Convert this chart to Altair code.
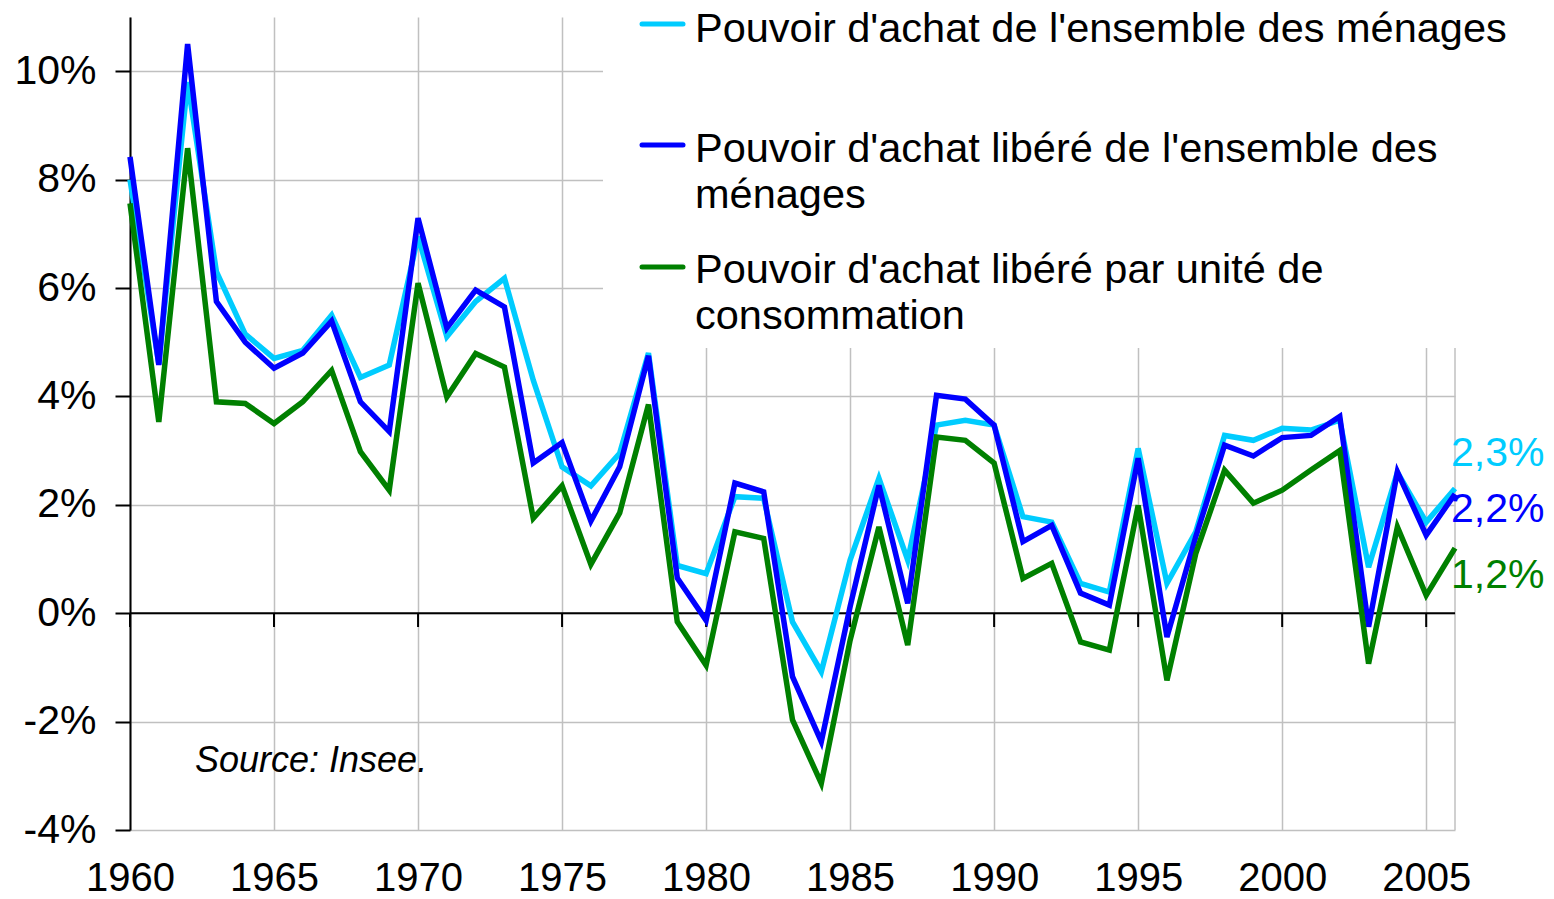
import altair as alt
import pandas as pd

years = list(range(1960, 2007))
ensemble = [8.0, 4.6, 9.8, 6.3, 5.15, 4.7, 4.85, 5.5, 4.35, 4.58,
            6.95, 5.1, 5.75, 6.18, 4.3, 2.7, 2.35, 2.95, 4.8, 0.88,
            0.73, 2.15, 2.12, -0.16, -1.08, 0.98, 2.49, 0.98, 3.47, 3.56,
            3.47, 1.78, 1.68, 0.55, 0.39, 3.04, 0.55, 1.5, 3.28, 3.19,
            3.41, 3.38, 3.56, 0.85, 2.6, 1.68, 2.3]
libere = [8.42, 4.58, 10.5, 5.75, 5.0, 4.52, 4.8, 5.39, 3.9, 3.35,
          7.29, 5.26, 5.96, 5.65, 2.77, 3.15, 1.7, 2.7, 4.75, 0.65,
          -0.13, 2.4, 2.24, -1.17, -2.37, 0.12, 2.36, 0.18, 4.02, 3.95,
          3.47, 1.32, 1.62, 0.37, 0.15, 2.86, -0.44, 1.41, 3.1, 2.9,
          3.24, 3.28, 3.63, -0.25, 2.61, 1.44, 2.2]
par_uc = [7.56, 3.53, 8.58, 3.9, 3.87, 3.5, 3.9, 4.48, 2.98, 2.27,
          6.09, 3.99, 4.79, 4.54, 1.75, 2.35, 0.9, 1.85, 3.85, -0.16,
          -0.96, 1.5, 1.38, -1.97, -3.14, -0.5, 1.59, -0.59, 3.25, 3.19,
          2.77, 0.64, 0.92, -0.53, -0.68, 1.99, -1.24, 1.1, 2.64, 2.03,
          2.27, 2.64, 3.0, -0.93, 1.59, 0.33, 1.2]
tick_years = list(range(1960, 2006, 5))
y_ticks = [-4, -2, 0, 2, 4, 6, 8, 10]
series_names = ["Pouvoir d'achat de l'ensemble des ménages",
                ["Pouvoir d'achat libéré de l'ensemble des", "ménages"],
                ["Pouvoir d'achat libéré par unité de", "consommation"]]
colors = ["#00CCFF", "#0000FF", "#008000"]

df = pd.DataFrame({"annee": years, "ensemble": ensemble, "libere": libere, "par_uc": par_uc})
end = df.tail(1)
one = pd.DataFrame({"k": [0]})
ticks_df = pd.DataFrame({"annee": tick_years})

W, H = 1325, 813
FONT = "Liberation Sans"
LW = 5.5
xs = alt.Scale(domain=[1960, 2006], nice=False, zero=False)
ys = alt.Scale(domain=[-4, 11], nice=False, zero=False)
x_axis = alt.Axis(values=tick_years, format="d", grid=True, gridColor="#C0C0C0",
                  gridWidth=1.5, domain=False, ticks=False, tickSize=0,
                  labelFontSize=40, labelColor="black", labelPadding=28,
                  labelFlush=False, labelOverlap=False, title=None)
y_axis = alt.Axis(values=y_ticks, labelExpr="datum.value + '%'", grid=True,
                  gridColor="#C0C0C0", gridWidth=1.5, domain=True, domainColor="black",
                  domainWidth=2, ticks=True, tickColor="black", tickWidth=2, tickSize=15,
                  labelPadding=19, labelFontSize=41, labelColor="black", title=None)

X = alt.X("annee:Q", scale=xs, axis=x_axis)

def Y(field):
    return alt.Y(f"{field}:Q", scale=ys, axis=y_axis)

right_border = alt.Chart(one).mark_rule(color="#C0C0C0", strokeWidth=1.5).encode(
    x=alt.X(datum=years[-1], scale=xs, axis=x_axis))

white_box = alt.Chart(one).mark_rect(color="white").encode(
    x=alt.value(473), x2=alt.value(1440), y=alt.value(-17), y2=alt.value(331))

zero_line = alt.Chart(one).mark_rule(color="black", strokeWidth=2).encode(
    y=alt.Y(datum=0, scale=ys, axis=y_axis), x=alt.value(0), x2=alt.value(W))

zero_ticks = alt.Chart(ticks_df).mark_rule(color="black", strokeWidth=2).encode(
    x=X, y=alt.Y(datum=0, scale=ys, axis=y_axis), y2=alt.value(610))

lines = [
    alt.Chart(df).mark_line(color=colors[0], strokeWidth=LW).encode(x=X, y=Y("ensemble")),
    alt.Chart(df).mark_line(color=colors[1], strokeWidth=LW).encode(x=X, y=Y("libere")),
    alt.Chart(df).mark_line(color=colors[2], strokeWidth=LW).encode(x=X, y=Y("par_uc")),
]

def fmt(v):
    return f"{v:.1f}".replace(".", ",") + "%"

end_labels = [
    alt.Chart(end).mark_text(align="left", baseline="alphabetic", dx=-4, dy=-23,
                             fontSize=41, color=colors[0]).encode(
        x=X, y=Y("ensemble"), text=alt.value(fmt(ensemble[-1]))),
    alt.Chart(end).mark_text(align="left", baseline="alphabetic", dx=-4, dy=28,
                             fontSize=41, color=colors[1]).encode(
        x=X, y=Y("libere"), text=alt.value(fmt(libere[-1]))),
    alt.Chart(end).mark_text(align="left", baseline="alphabetic", dx=-4, dy=40,
                             fontSize=41, color=colors[2]).encode(
        x=X, y=Y("par_uc"), text=alt.value(fmt(par_uc[-1]))),
]

legend_y = [7, 128, 250]
legend_text_y = [25, 145, 266]
legend = []
for i in range(3):
    legend.append(alt.Chart(one).mark_rule(color=colors[i], strokeWidth=5, strokeCap="round").encode(
        x=alt.value(512), x2=alt.value(553), y=alt.value(legend_y[i])))
    legend.append(alt.Chart(one).mark_text(align="left", baseline="alphabetic", fontSize=41.5,
                                           lineHeight=46, color="black").encode(
        x=alt.value(565), y=alt.value(legend_text_y[i]), text=alt.value(series_names[i])))

source = alt.Chart(one).mark_text(align="left", baseline="alphabetic", fontSize=36,
                                  fontStyle="italic", color="black").encode(
    x=alt.value(65), y=alt.value(755), text=alt.value("Source: Insee."))

chart = alt.layer(
    right_border, white_box, zero_line, zero_ticks, *lines, *end_labels, *legend, source
).properties(
    width=W, height=H,
    autosize=alt.AutoSizeParams(type="none"),
    padding={"left": 122, "top": 9, "right": 90, "bottom": 68},
).configure(font=FONT).configure_view(stroke=None).configure_axis(labelFont=FONT)

chart.save("out.html", embed_options={"renderer": "svg", "actions": False})
